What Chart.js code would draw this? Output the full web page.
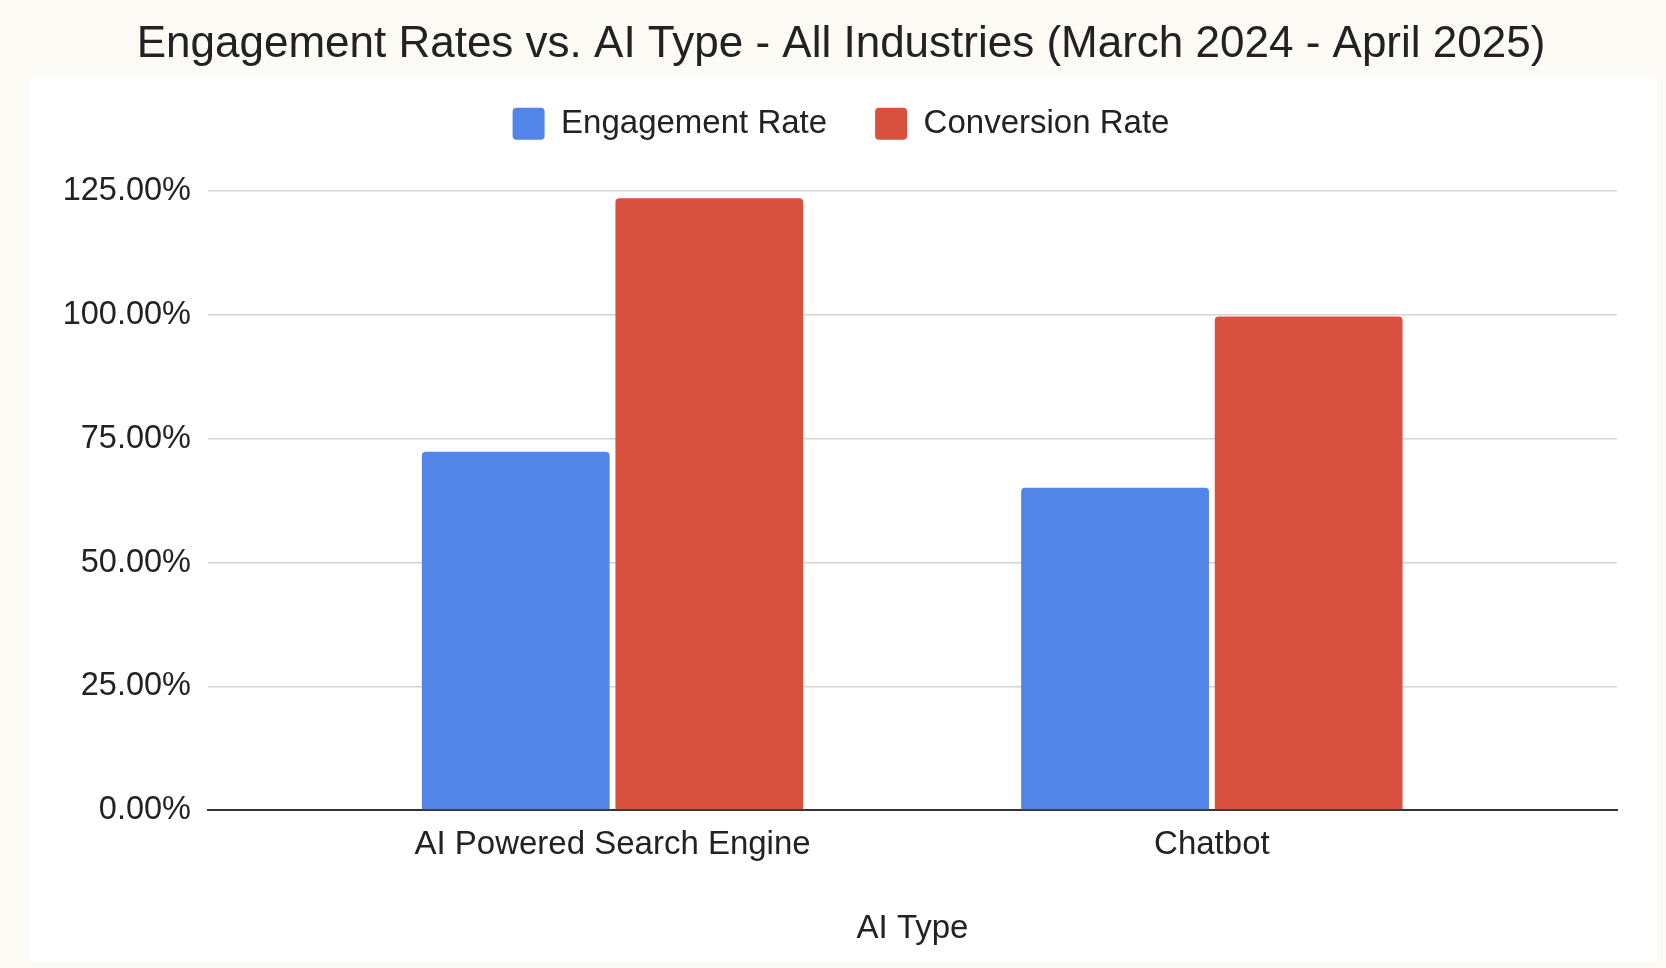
<html>
<head>
<style>
  body { margin: 0; background: #fbfaf4; }
  #wrap { width: 1666px; height: 968px; position: relative; }
</style>
</head>
<body>
<script src="https://cdn.jsdelivr.net/npm/chart.js@4.4.1/dist/chart.umd.min.js"></script>
<div id="wrap"><canvas id="myChart"></canvas></div>
<script>
const titleText = 'Engagement Rates vs. AI Type - All Industries (March 2024 - April 2025)';
const categories = ['AI Powered Search Engine', 'Chatbot'];
const engagementRate = [72.4, 65.1];
const conversionRate = [123.6, 99.7];
const yTicks = [0, 25, 50, 75, 100, 125];

const font = "'Liberation Sans', Arial, sans-serif";

// paint the cream page and the white chart card behind everything
const cardBg = {
    id: 'cardBg',
    beforeDraw(chart) {
        const c = chart.ctx;
        c.save();
        c.fillStyle = '#fbfaf4';
        c.fillRect(0, 0, chart.width, chart.height);
        c.fillStyle = '#ffffff';
        c.fillRect(29, 77, 1628, 885);
        c.restore();
    }
};

// extra room under the legend
const legendGap = {
    id: 'legendGap',
    beforeInit(chart) {
        const fit = chart.legend.fit;
        chart.legend.fit = function () {
            fit.bind(chart.legend)();
            this.height += 41;
        };
    }
};

const toXY = arr => arr.map((v, i) => ({ x: i, y: v }));

const ctx = document.getElementById('myChart').getContext('2d');
const myChart = new Chart(ctx, {
    type: 'bar',
    data: {
        datasets: [{
            label: 'Engagement Rate',
            data: toXY(engagementRate),
            backgroundColor: '#5384e8',
            borderRadius: 4,
            borderSkipped: 'start'
        },
        {
            label: 'Conversion Rate',
            data: toXY(conversionRate),
            backgroundColor: '#d9503f',
            borderRadius: 4,
            borderSkipped: 'start'
        }]
    },
    plugins: [cardBg, legendGap],
    options: {
        responsive: true,
        maintainAspectRatio: false,
        animation: false,
        categoryPercentage: 0.646,
        barPercentage: 0.97,
        layout: { padding: { left: 65, right: 49, top: 0, bottom: 19 } },
        plugins: {
            title: {
                display: true,
                text: titleText,
                color: '#222',
                font: { family: font, size: 44, weight: 'normal', lineHeight: 0.3 },
                padding: { top: 38, bottom: 8 }
            },
            legend: {
                position: 'top',
                labels: {
                    color: '#222',
                    font: { family: font, size: 33 },
                    boxWidth: 32,
                    boxHeight: 32,
                    useBorderRadius: true,
                    borderRadius: 4,
                    padding: 48
                }
            },
            tooltip: { enabled: false }
        },
        scales: {
            x: {
                type: 'linear',
                offset: false,
                min: -0.675,
                max: 1.676,
                grid: { display: false, drawTicks: false },
                border: { display: true, color: '#333', width: 2 },
                afterBuildTicks: scale => {
                    scale.ticks = categories.map((c, i) => ({ value: i }));
                },
                afterFit: scale => {
                    scale.paddingLeft = 0;
                    scale.paddingRight = 0;
                },
                ticks: {
                    autoSkip: false,
                    maxRotation: 0,
                    padding: 15,
                    color: '#222',
                    font: { family: font, size: 33 },
                    callback: v => categories[v]
                },
                title: {
                    display: true,
                    text: 'AI Type',
                    color: '#222',
                    font: { family: font, size: 33 },
                    padding: { top: 29.5, bottom: 0 }
                }
            },
            y: {
                min: 0,
                max: 125,
                afterBuildTicks: scale => {
                    scale.ticks = yTicks.map(v => ({ value: v }));
                },
                afterFit: scale => {
                    scale.width = 143;
                },
                grid: {
                    drawTicks: false,
                    color: c => c.tick && c.tick.value === 0 ? '#333' : '#d3d3d3',
                    lineWidth: c => c.tick && c.tick.value === 0 ? 2 : 1.5
                },
                border: { display: false },
                ticks: {
                    padding: 17,
                    color: '#222',
                    font: { family: font, size: 32.5 },
                    callback: v => v.toFixed(2) + '%'
                }
            }
        }
    }
});
</script>
</body>
</html>
